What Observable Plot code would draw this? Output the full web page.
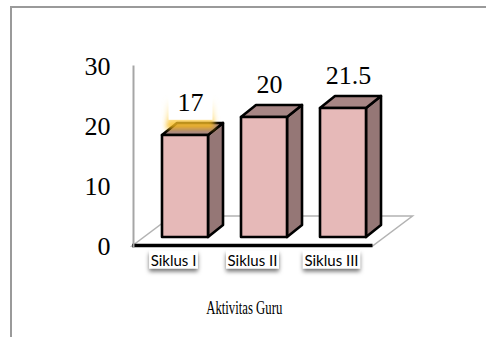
<!DOCTYPE html>
<html>
<head>
<meta charset="utf-8">
<script src="https://cdn.jsdelivr.net/npm/d3@7"></script>
<script src="https://cdn.jsdelivr.net/npm/@observablehq/plot@0.6"></script>
<style>
  html, body { margin: 0; padding: 0; background: #fff; }
  #wrap { position: relative; width: 486px; height: 337px; overflow: hidden; }
  #border { position: absolute; left: 10px; top: 5.5px; right: -5px; bottom: -5px;
            border-top: 2px solid #9a9a9a; border-left: 2px solid #9a9a9a; }
  #wrap svg { position: absolute; left: 0; top: 0; }
</style>
</head>
<body>
<div id="wrap"><div id="border"></div></div>
<script>
// Aktivitas guru per siklus
const categories = ["Siklus I", "Siklus II", "Siklus III"];
const values = [17, 20, 21.5];
const yTicks = [0, 10, 20, 30];
const xTitle = "Aktivitas Guru";

const data = categories.map((category, i) => ({category, value: values[i]}));

const SERIF = "'Liberation Serif', 'Times New Roman', serif";
const SANS = "Lato, 'Liberation Sans', sans-serif";
const DEPTH = [15, -12];   // 3D offset of each bar's back face
const FLOOR = [40, -30];   // 3D offset of the floor's back edge

const pts = (arr) => arr.map(p => p.join(",")).join(" ");

// floor plane under the bars, with a heavy front edge
const floor = (index, scales, values, dims) => {
  const y0 = scales.y(0);
  const x0 = dims.marginLeft - 1;
  const x1 = dims.width - dims.marginRight - 22;
  const g = d3.create("svg:g");
  g.append("polygon")
    .attr("points", pts([[x0, y0], [x1, y0], [x1 + FLOOR[0], y0 + FLOOR[1]], [x0 + FLOOR[0], y0 + FLOOR[1]]]))
    .attr("fill", "#fff").attr("stroke", "#b3b3b3").attr("stroke-width", 1.5);
  g.append("line")
    .attr("x1", x0).attr("x2", x1).attr("y1", y0 - 0.5).attr("y2", y0 - 0.5)
    .attr("stroke", "#000").attr("stroke-width", 3.5);
  return g.node();
};

// add side and top faces to each bar rect
function box3d(index, scales, values, dims, ctx, next) {
  const g = next(index, scales, values, dims, ctx);
  const ns = "http://www.w3.org/2000/svg";
  for (const r of Array.from(g.querySelectorAll("rect"))) {
    const x = +r.getAttribute("x"), y = +r.getAttribute("y");
    const w = +r.getAttribute("width"), h = +r.getAttribute("height");
    const [dx, dy] = DEPTH;
    const side = document.createElementNS(ns, "polygon");
    side.setAttribute("points", pts([[x + w, y], [x + w + dx, y + dy], [x + w + dx, y + h + dy], [x + w, y + h]]));
    side.setAttribute("fill", "#957776");
    const top = document.createElementNS(ns, "polygon");
    top.setAttribute("points", pts([[x, y], [x + dx, y + dy], [x + w + dx, y + dy], [x + w, y]]));
    top.setAttribute("fill", "#a78685");
    g.insertBefore(side, r);
    g.insertBefore(top, r);
  }
  return g;
}

const tag = (name) => (index, scales, values, dims, ctx, next) => {
  const g = next(index, scales, values, dims, ctx);
  g.setAttribute("class", name);
  return g;
};

const chart = Plot.plot({
  width: 486,
  height: 337,
  marginLeft: 133,
  marginRight: 91.5,
  marginTop: 66,
  marginBottom: 91,
  style: {background: "transparent", overflow: "visible"},
  x: {domain: categories, paddingInner: 0.415, paddingOuter: 0.352, axis: null},
  y: {domain: [0, 30]},
  marks: [
    floor,
    Plot.frame({anchor: "left", stroke: "#a6a6a6", strokeWidth: 2}),
    Plot.axisY({ticks: yTicks, tickSize: 0, tickPadding: 23, fontSize: 26, fontFamily: SERIF, fill: "#000", label: null}),
    Plot.barY(data, {x: "category", y: "value", fill: "#e6b9b8", stroke: "#000", strokeWidth: 2.6,
                     strokeLinejoin: "round", dy: -9, render: box3d}),
    Plot.text(data, {x: "category", y: "value", text: d => String(d.value), dy: -42, dx: 5,
                     fontSize: 26, fontFamily: SERIF, fill: "#000", render: tag("value-labels")}),
    Plot.text(data, {x: "category", frameAnchor: "bottom", text: "category", dy: 19, dx: -12,
                     fontSize: 15, fontFamily: SANS, fill: "#000", render: tag("cat-labels")}),
    Plot.text([xTitle], {frameAnchor: "bottom", text: d => d, dy: 67, dx: -20,
                         fontSize: 19, fontFamily: SERIF, fill: "#000", render: tag("x-title")})
  ]
});

document.getElementById("wrap").append(chart);

// filters for label boxes
const svg = d3.select(chart);
const defs = svg.insert("defs", ":first-child");
defs.append("filter").attr("id", "lblShadow")
  .attr("x", "-30%").attr("y", "-40%").attr("width", "160%").attr("height", "200%")
  .append("feDropShadow").attr("dx", 0).attr("dy", 3).attr("stdDeviation", 2)
  .attr("flood-color", "#000").attr("flood-opacity", 0.55);
defs.append("filter").attr("id", "glowBlur")
  .attr("x", "-50%").attr("y", "-50%").attr("width", "200%").attr("height", "200%")
  .append("feGaussianBlur").attr("stdDeviation", 2.5);
const grad = defs.append("linearGradient").attr("id", "glowGrad").attr("x1", 0).attr("y1", 0).attr("x2", 0).attr("y2", 1);
grad.append("stop").attr("offset", "0").attr("stop-color", "#ffe699").attr("stop-opacity", 0);
grad.append("stop").attr("offset", "0.6").attr("stop-color", "#ffd24d").attr("stop-opacity", 0.5);
grad.append("stop").attr("offset", "1").attr("stop-color", "#f5b000").attr("stop-opacity", 1);

const ns = "http://www.w3.org/2000/svg";
// rect behind a text element, in the same local coordinates
function boxBehind(text, pad, attrs) {
  const b = text.getBBox();
  const r = document.createElementNS(ns, "rect");
  r.setAttribute("x", b.x - pad[0]);
  r.setAttribute("y", b.y - pad[1]);
  r.setAttribute("width", b.width + 2 * pad[0]);
  r.setAttribute("height", b.height + pad[1] + pad[2]);
  const tr = text.getAttribute("transform");
  if (tr) r.setAttribute("transform", tr);
  for (const k in attrs) r.setAttribute(k, attrs[k]);
  text.parentNode.insertBefore(r, text);
  return r;
}

// white label boxes with a soft drop shadow under the category names
chart.querySelectorAll(".cat-labels text").forEach(t => {
  boxBehind(t, [1.5, 0, 0], {fill: "#fff", filter: "url(#lblShadow)"});
});

// highlighted box behind the first value label
const first = chart.querySelector(".value-labels text");
if (first) {
  boxBehind(first, [11, -10, 12], {fill: "url(#glowGrad)", filter: "url(#glowBlur)"});
  boxBehind(first, [9, 0, 3], {fill: "#fff"});
}

// condensed axis title
const title = chart.querySelector(".x-title text");
if (title) {
  title.setAttribute("textLength", 76);
  title.setAttribute("lengthAdjust", "spacingAndGlyphs");
}
</script>
</body>
</html>
